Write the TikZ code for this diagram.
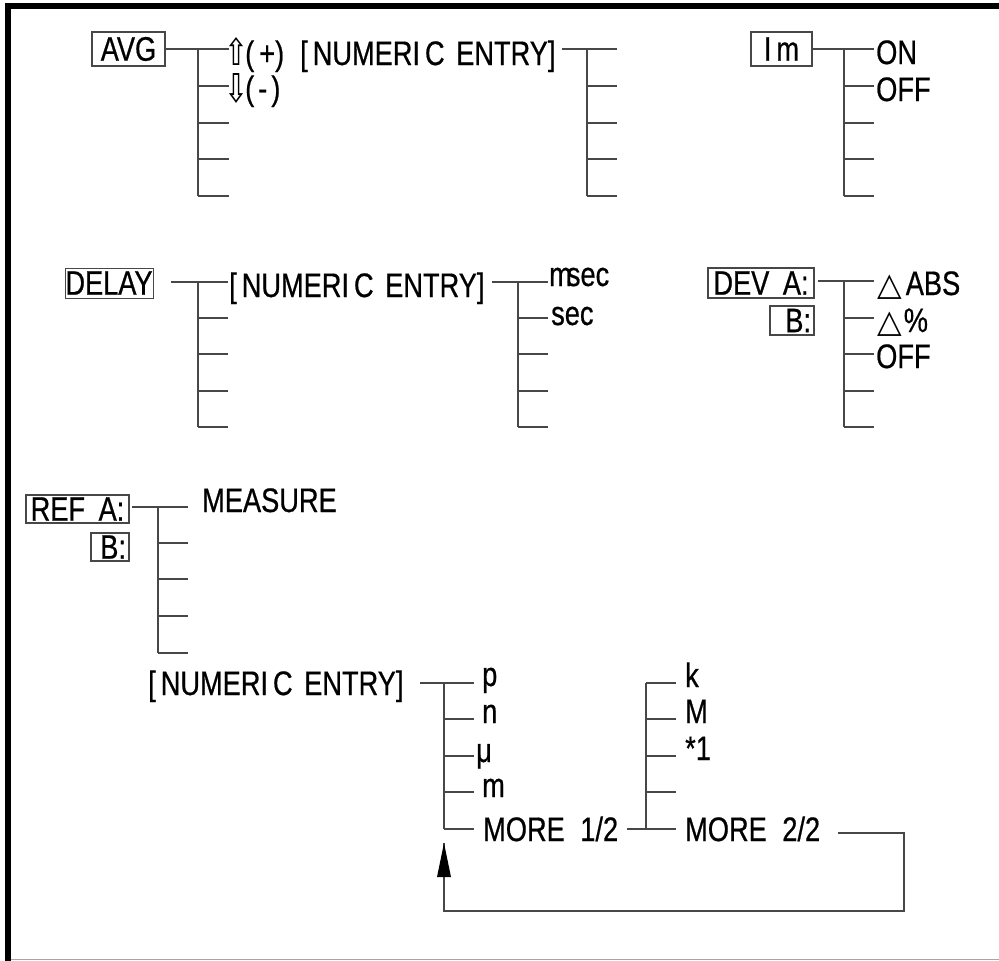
\documentclass[tikz,border=0pt]{standalone}
\usepackage{fontspec}
\usepackage{graphicx}
\setmainfont{Liberation Sans}[FakeStretch=0.8,FakeBold=0.6]
\newfontfamily\dejavu{DejaVu Sans}
\usetikzlibrary{arrows.meta}
\newcommand{\numentry}{[\hspace{5pt}NUMERI\hspace{5pt}C\hspace{4pt} ENTRY]}
\begin{document}
\begin{tikzpicture}[x=1pt,y=-1pt,
  ln/.style={draw=black!72, line width=1.3pt},
  lbl/.style={anchor=base west, inner sep=0pt, font=\fontsize{34}{34}\selectfont},
  menubox/.style={draw=black!72, line width=1.2pt, inner xsep=2pt, inner ysep=0pt,
     font=\fontsize{34}{34}\selectfont},
]
\useasboundingbox (0,0) rectangle (999,961);
% frame
\draw[line width=6pt, miter limit=10] (8,961) -- (8,6) -- (999,6);
\draw[black!35, line width=1pt] (11,959.5) -- (999,959.5);

% ---------- AVG ----------
\node[menubox, minimum width=73pt, minimum height=34pt] (avg) at (128.5,49) {AVG};
\coordinate (avgT) at (198,49);
\draw[ln] (avg.east) -- (avgT) -- ++(31,0);
\draw[ln] (avgT) -- (198,196);
\foreach \yy in {86,123,159,196} \draw[ln] (198,\yy) -- (229,\yy);
\node[lbl, anchor=base] (upa) at (236,65) {\resizebox{24pt}{28pt}{\dejavu ⇧}};
\node[lbl] (plus) at (245,65) {(\hspace{5pt}+)};
\node[lbl] (numA) at (300,65) {\numentry};
\node[lbl, anchor=base] (dna) at (236,102) {\resizebox{24pt}{29pt}{\dejavu ⇩}};
\node[lbl] (minus) at (245,100) {(\hspace{4pt}-\hspace{4pt})};
\coordinate (avgS2) at (562,49);
\coordinate (avgT2) at (587,49);
\draw[ln] (avgS2) -- (avgT2) -- ++(30,0);
\draw[ln] (avgT2) -- (587,196);
\foreach \yy in {86,123,159,196} \draw[ln] (587,\yy) -- (617,\yy);

% ---------- Im ----------
\node[menubox, minimum width=61pt, minimum height=34pt] (im) at (781.5,49) {I\hspace{5pt}m};
\coordinate (imT) at (844,49);
\draw[ln] (im.east) -- (imT) -- ++(30,0);
\draw[ln] (imT) -- (844,196);
\foreach \yy in {86,123,159,196} \draw[ln] (844,\yy) -- (874,\yy);
\node[lbl] (on) at (876,64) {ON};
\node[lbl] (off1) at (876,101) {OFF};

% ---------- DELAY ----------
\node[menubox, minimum width=88pt, minimum height=30pt, line width=0.8pt, inner xsep=0pt] (delay) at (109,283) {DELAY};
\coordinate (dlS) at (171,282);
\coordinate (dlT) at (198,282);
\draw[ln] (dlS) -- (dlT) -- ++(30,0);
\draw[ln] (dlT) -- (198,427);
\foreach \yy in {318,354,391,427} \draw[ln] (198,\yy) -- (228,\yy);
\node[lbl] (numD) at (229,297) {\numentry};
\coordinate (dlS2) at (492,282);
\coordinate (dlT2) at (518,282);
\draw[ln] (dlS2) -- (dlT2) -- ++(30,0);
\draw[ln] (dlT2) -- (518,427);
\foreach \yy in {318,354,391,427} \draw[ln] (518,\yy) -- (548,\yy);
\node[lbl] (msec) at (549,286) {m\hspace{-5pt}sec};
\node[lbl] (sec) at (551,325) {sec};

% ---------- DEV ----------
\node[menubox, minimum width=106pt, minimum height=30pt] (devA) at (761,283) {DEV\hspace{6pt} A:};
\node[menubox, minimum width=44pt, text width=38pt, align=right, minimum height=29pt] (devB) at (792,320.5) {B:};
\coordinate (dvS) at (818,281);
\coordinate (dvT) at (844,281);
\draw[ln] (dvS) -- (dvT) -- ++(30,0);
\draw[ln] (dvT) -- (844,427);
\foreach \yy in {318,354,391,427} \draw[ln] (844,\yy) -- (874,\yy);
\node[lbl] (abs) at (877,295) {{\dejavu\fontsize{32}{32}\selectfont △}\hspace{4pt}ABS};
\node[lbl] (pct) at (877,332) {{\dejavu\fontsize{32}{32}\selectfont △}\hspace{2pt}\%};
\node[lbl] (off2) at (876,368) {OFF};

% ---------- REF ----------
\node[menubox, minimum width=103pt, minimum height=28pt] (refA) at (77.5,509) {REF\hspace{6pt} A:};
\node[menubox, minimum width=38pt, text width=32pt, align=right, minimum height=28pt] (refB) at (110,547) {B:};
\coordinate (rfS) at (132,507);
\coordinate (rfT) at (158,507);
\draw[ln] (rfS) -- (rfT) -- ++(30,0);
\draw[ln] (rfT) -- (158,653);
\foreach \yy in {543,579,616,653} \draw[ln] (158,\yy) -- (188,\yy);
\node[lbl] (meas) at (202,512) {MEASURE};

% ---------- numeric entry units ----------
\node[lbl] (numR) at (148,695) {\numentry};
\coordinate (nuS) at (420,683);
\coordinate (nuT) at (444,683);
\draw[ln] (nuS) -- (nuT) -- ++(30,0);
\draw[ln] (nuT) -- (444,829);
\foreach \yy in {719,756,792,829} \draw[ln] (444,\yy) -- (474,\yy);
\node[lbl] (p) at (482,686) {p};
\node[lbl] (n) at (482,723) {n};
\node[lbl] (mu) at (476,762) {μ};
\node[lbl] (m) at (482,797) {m};
\node[lbl] (more1) at (483,841) {MORE\hspace{8pt} 1/2};
\coordinate (mS) at (627,829);
\coordinate (mT) at (646,829);
\draw[ln] (mS) -- (mT) -- ++(30,0);
\draw[ln] (mT) -- (646,683);
\foreach \yy in {683,719,756,792} \draw[ln] (646,\yy) -- (676,\yy);
\node[lbl] (k) at (685,687) {k};
\node[lbl] (M) at (685,723) {M};
\node[lbl] (one) at (685,760) {*1};
\node[lbl] (more2) at (685,841) {MORE\hspace{8pt} 2/2};
\coordinate (r0) at (838,833);
\coordinate (r1) at (904,833);
\coordinate (r2) at (904,911);
\coordinate (r3) at (444,911);
\coordinate (rTip) at (444,843);
\draw[ln] (r0) -- (r1) -- (r2) -- (r3) -- (rTip);
\draw[draw=none, fill=black] (rTip) -- ++(-7,34) -- ++(14,0) -- cycle;
\end{tikzpicture}
\end{document}
